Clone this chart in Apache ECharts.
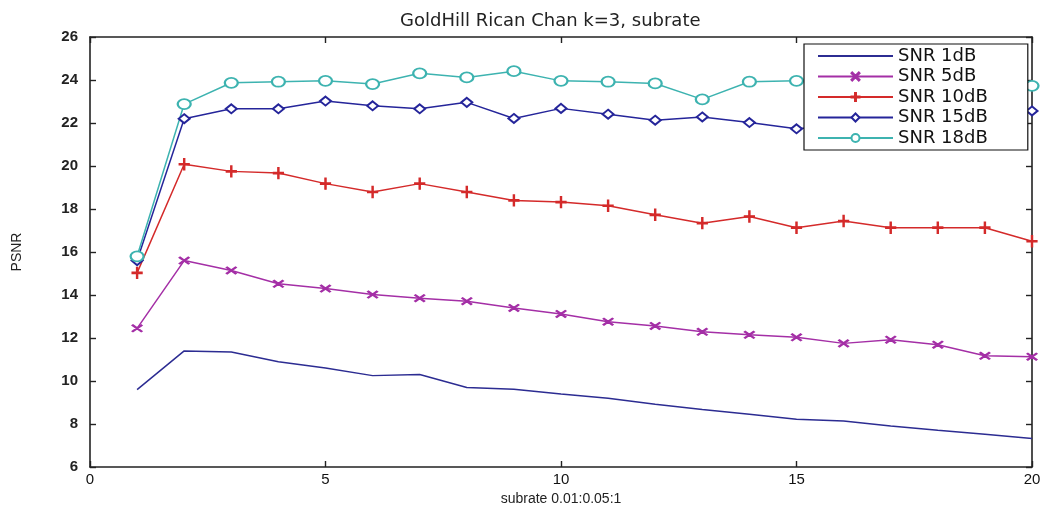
<!DOCTYPE html>
<html>
<head>
<meta charset="utf-8">
<script src="https://cdn.jsdelivr.net/npm/echarts@6/dist/echarts.min.js"></script>
<style>html,body{margin:0;padding:0;background:#fff}#c{width:1048px;height:506px}</style>
</head>
<body>
<div id="c"></div>
<script>
const xValues = [1,2,3,4,5,6,7,8,9,10,11,12,13,14,15,16,17,18,19,20];
const seriesNames = ['SNR 1dB','SNR 5dB','SNR 10dB','SNR 15dB','SNR 18dB'];
const snr1  = [9.6,11.4,11.35,10.9,10.6,10.25,10.3,9.7,9.62,9.4,9.2,8.92,8.67,8.45,8.22,8.14,7.91,7.71,7.52,7.33];
const snr5  = [12.45,15.6,15.14,14.52,14.3,14.02,13.85,13.71,13.4,13.12,12.76,12.56,12.29,12.15,12.03,11.75,11.92,11.69,11.17,11.13];
const snr10 = [15.03,20.08,19.75,19.67,19.18,18.79,19.18,18.79,18.4,18.32,18.15,17.73,17.34,17.65,17.13,17.44,17.13,17.13,17.13,16.5];
const snr15 = [15.6,22.2,22.66,22.66,23.02,22.8,22.66,22.96,22.21,22.68,22.41,22.13,22.28,22.02,21.73,21.9,22.0,21.8,22.2,22.56];
const snr18 = [15.8,22.88,23.87,23.92,23.96,23.81,24.31,24.12,24.41,23.96,23.92,23.84,23.1,23.92,23.96,24.0,23.8,24.1,23.9,23.73];
const xTicks = {min:0, max:20, interval:5};
const yTicks = {min:6, max:26, interval:2};
const titleText = 'GoldHill Rican Chan k=3, subrate';
const xLabel = 'subrate 0.01:0.05:1';
const yLabel = 'PSNR';

const pair = arr => xValues.map((x,i)=>[x, arr[i]]);
const xMark = 'path://M0,0.9L0.9,0L10,9.1L9.1,10Z M9.1,0L10,0.9L0.9,10L0,9.1Z';
const plusMark = 'path://M4.4,0h1.2v10h-1.2z M0,4.4h10v1.2h-10z';

const chart = echarts.init(document.getElementById('c'), null, {renderer:'canvas'});
const axisLine = {show:true, onZero:false, lineStyle:{color:'#222', width:1.6}};
const tickIn = {show:true, inside:true, length:6, lineStyle:{color:'#222', width:1.4}};
const font = 'Liberation Sans';
function mk(name, data, color, symbol, size){
  return {
    name, type:'line', data: pair(data), symbol, symbolSize:size,
    showSymbol: symbol !== 'none',
    lineStyle:{color, width:1.5},
    itemStyle:{color, borderColor:color, borderWidth:1.3},
    emphasis:{disabled:true}, animation:false
  };
}
chart.setOption({
  animation:false,
  backgroundColor:'#fff',
  title:{text:titleText, left:400, top:12, padding:0,
    textStyle:{fontFamily:'DejaVu Sans', fontSize:18, fontWeight:'normal', color:'#222'}},
  grid:{left:90, right:16, top:37, bottom:39, containLabel:false, outerBoundsMode:'none'},
  legend:{
    orient:'vertical', left:804, top:44,
    padding:[3,40,3,13], itemWidth:75, itemHeight:10, itemGap:2.5,
    backgroundColor:'#fff', borderColor:'#111', borderWidth:1.2,
    textStyle:{fontFamily:'DejaVu Sans', fontSize:18, color:'#111'},
    data: [
      {name:seriesNames[0], itemStyle:{opacity:0}},
      seriesNames[1], seriesNames[2], seriesNames[3], seriesNames[4]
    ]
  },
  xAxis:[
    {type:'value', min:xTicks.min, max:xTicks.max, interval:xTicks.interval, position:'bottom',
     name:xLabel, nameLocation:'middle', nameGap:24,
     nameTextStyle:{fontFamily:font, fontSize:14, color:'#222'},
     axisLine, axisTick:tickIn, splitLine:{show:false},
     axisLabel:{fontFamily:font, fontSize:15, color:'#111', margin:5}},
    {type:'value', min:xTicks.min, max:xTicks.max, interval:xTicks.interval, position:'top',
     axisLine, axisTick:tickIn, splitLine:{show:false}, axisLabel:{show:false}}
  ],
  yAxis:[
    {type:'value', min:yTicks.min, max:yTicks.max, interval:yTicks.interval, position:'left',
     name:yLabel, nameLocation:'middle', nameGap:66,
     nameTextStyle:{fontFamily:font, fontSize:14, color:'#222'},
     axisLine, axisTick:tickIn, splitLine:{show:false},
     axisLabel:{fontFamily:font, fontSize:15, fontWeight:'bold', color:'#222', margin:12}},
    {type:'value', min:yTicks.min, max:yTicks.max, interval:yTicks.interval, position:'right',
     axisLine, axisTick:tickIn, splitLine:{show:false}, axisLabel:{show:false}}
  ],
  series:[
    mk(seriesNames[0], snr1, '#2c2c92', 'none', 0),
    mk(seriesNames[1], snr5, '#a42fa6', xMark, [10,7]),
    mk(seriesNames[2], snr10, '#d42a2a', plusMark, [10,11]),
    mk(seriesNames[3], snr15, '#25259a', 'emptyDiamond', [11,9]),
    mk(seriesNames[4], snr18, '#3db3b0', 'emptyCircle', [13,10])
  ]
});
</script>
</body>
</html>
